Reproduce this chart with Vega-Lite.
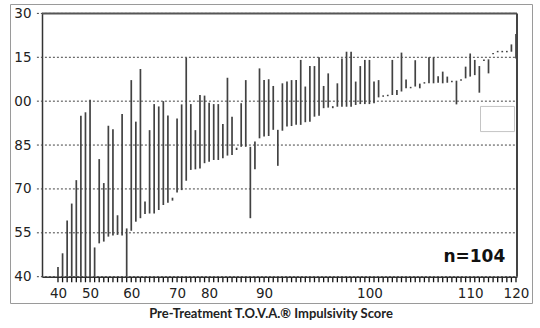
{
  "$schema": "https://vega.github.io/schema/vega-lite/v6.json",
  "width": 522,
  "height": 299,
  "autosize": "none",
  "padding": {"left": 10, "top": 4, "right": 8, "bottom": 25},
  "background": "white",
  "config": {
    "view": {"stroke": "#9a9a9a", "strokeWidth": 1},
    "axis": {
      "grid": false, "zindex": 1,
      "domainColor": "#333", "domainWidth": 1.5,
      "tickColor": "#333", "tickWidth": 1,
      "labelFont": "DejaVu Sans", "labelFontSize": 13.5, "labelColor": "#222",
      "labelOverlap": false, "labelFlush": false, "labelBound": false
    }
  },
  "title": {"text": "Pre-Treatment T.O.V.A.® Impulsivity Score", "orient": "bottom", "anchor": "middle", "offset": 5, "font": "Lato", "fontSize": 13, "fontWeight": "bold", "color": "#222"},
  "datasets": {
    "subjects": [
      {"rank": 1, "pre": 40, "post": 43.3},
      {"rank": 2, "pre": 40, "post": 48},
      {"rank": 3, "pre": 40, "post": 59.2},
      {"rank": 4, "pre": 40, "post": 65},
      {"rank": 5, "pre": 40, "post": 73},
      {"rank": 6, "pre": 40, "post": 95},
      {"rank": 7, "pre": 40, "post": 96.2},
      {"rank": 8, "pre": 40, "post": 100.5},
      {"rank": 9, "pre": 50, "post": 40},
      {"rank": 10, "pre": 51.4, "post": 80.2},
      {"rank": 11, "pre": 52, "post": 72},
      {"rank": 12, "pre": 53.7, "post": 91.6},
      {"rank": 13, "pre": 54.1, "post": 90.4},
      {"rank": 14, "pre": 54.3, "post": 61},
      {"rank": 15, "pre": 54.1, "post": 95.6},
      {"rank": 16, "pre": 56.5, "post": 40},
      {"rank": 17, "pre": 55.7, "post": 107.2},
      {"rank": 18, "pre": 58.8, "post": 93},
      {"rank": 19, "pre": 60, "post": 111},
      {"rank": 20, "pre": 61.4, "post": 65.7},
      {"rank": 21, "pre": 61.6, "post": 90.1},
      {"rank": 22, "pre": 61.6, "post": 99},
      {"rank": 23, "pre": 62.8, "post": 98.2},
      {"rank": 24, "pre": 64.5, "post": 100},
      {"rank": 25, "pre": 65.3, "post": 95.1},
      {"rank": 26, "pre": 66, "post": 67},
      {"rank": 27, "pre": 68.8, "post": 94.1},
      {"rank": 28, "pre": 69.6, "post": 98.9},
      {"rank": 29, "pre": 72.8, "post": 114.9},
      {"rank": 30, "pre": 76.5, "post": 99},
      {"rank": 31, "pre": 76.7, "post": 90.1},
      {"rank": 32, "pre": 77, "post": 102.1},
      {"rank": 33, "pre": 78.8, "post": 101.9},
      {"rank": 34, "pre": 79.3, "post": 99.5},
      {"rank": 35, "pre": 79.9, "post": 99},
      {"rank": 36, "pre": 79.9, "post": 99},
      {"rank": 37, "pre": 80.5, "post": 92.2},
      {"rank": 38, "pre": 81.4, "post": 108},
      {"rank": 39, "pre": 81.6, "post": 94.7},
      {"rank": 40, "pre": 83.3, "post": 84.1},
      {"rank": 41, "pre": 84.4, "post": 99.3},
      {"rank": 42, "pre": 84.4, "post": 107.2},
      {"rank": 43, "pre": 84.4, "post": 60},
      {"rank": 44, "pre": 86.2, "post": 76.7},
      {"rank": 45, "pre": 87.3, "post": 111.2},
      {"rank": 46, "pre": 87.9, "post": 107.2},
      {"rank": 47, "pre": 88.1, "post": 107.5},
      {"rank": 48, "pre": 90.2, "post": 105.2},
      {"rank": 49, "pre": 90.2, "post": 77.9},
      {"rank": 50, "pre": 89.9, "post": 106.1},
      {"rank": 51, "pre": 91.3, "post": 106.7},
      {"rank": 52, "pre": 91.5, "post": 107.2},
      {"rank": 53, "pre": 91.9, "post": 107.2},
      {"rank": 54, "pre": 91.9, "post": 114.1},
      {"rank": 55, "pre": 92.8, "post": 105},
      {"rank": 56, "pre": 93, "post": 112},
      {"rank": 57, "pre": 94.7, "post": 112},
      {"rank": 58, "pre": 95, "post": 115},
      {"rank": 59, "pre": 97.6, "post": 105.2},
      {"rank": 60, "pre": 97.8, "post": 109.5},
      {"rank": 61, "pre": 97.6, "post": 98.3},
      {"rank": 62, "pre": 98.1, "post": 106.1},
      {"rank": 63, "pre": 98.1, "post": 114.6},
      {"rank": 64, "pre": 98.1, "post": 116.9},
      {"rank": 65, "pre": 98.1, "post": 116.9},
      {"rank": 66, "pre": 98.7, "post": 106.7},
      {"rank": 67, "pre": 99, "post": 112},
      {"rank": 68, "pre": 99, "post": 114.1},
      {"rank": 69, "pre": 99, "post": 114.1},
      {"rank": 70, "pre": 99.3, "post": 106.7},
      {"rank": 71, "pre": 101.3, "post": 107.2},
      {"rank": 72, "pre": 101.5, "post": 102},
      {"rank": 73, "pre": 101.7, "post": 102.2},
      {"rank": 74, "pre": 102.1, "post": 114.1},
      {"rank": 75, "pre": 102.1, "post": 103.8},
      {"rank": 76, "pre": 103.3, "post": 116.6},
      {"rank": 77, "pre": 104.4, "post": 107.4},
      {"rank": 78, "pre": 104.4, "post": 104.9},
      {"rank": 79, "pre": 105, "post": 114},
      {"rank": 80, "pre": 104.4, "post": 106},
      {"rank": 81, "pre": 106, "post": 106.5},
      {"rank": 82, "pre": 106.1, "post": 115},
      {"rank": 83, "pre": 106.1, "post": 115},
      {"rank": 84, "pre": 106.3, "post": 108.5},
      {"rank": 85, "pre": 106.1, "post": 110.1},
      {"rank": 86, "pre": 106.3, "post": 108.4},
      {"rank": 87, "pre": 106.5, "post": 107},
      {"rank": 88, "pre": 107, "post": 98.9},
      {"rank": 89, "pre": 107, "post": 107.5},
      {"rank": 90, "pre": 107.8, "post": 111.8},
      {"rank": 91, "pre": 108.4, "post": 116.3},
      {"rank": 92, "pre": 108.9, "post": 114.1},
      {"rank": 93, "pre": 112, "post": 102.9},
      {"rank": 94, "pre": 113.7, "post": 114.2},
      {"rank": 95, "pre": 109.5, "post": 114.3},
      {"rank": 96, "pre": 116, "post": 116.5},
      {"rank": 97, "pre": 116.7, "post": 117.2},
      {"rank": 98, "pre": 116.7, "post": 117.2},
      {"rank": 99, "pre": 116.7, "post": 117.2},
      {"rank": 100, "pre": 116.9, "post": 119.4},
      {"rank": 101, "pre": 114.6, "post": 123}
    ],
    "grid": [{"level": 40}, {"level": 55}, {"level": 70}, {"level": 85}, {"level": 100}, {"level": 115}, {"level": 130}],
    "box": [{"r1": 93.25, "r2": 100.67, "v1": 89.6, "v2": 98.2}],
    "one": [{}]
  },
  "layer": [
    {
      "data": {"name": "subjects"},
      "mark": {"type": "rule", "color": "#424242", "strokeWidth": 1.7, "clip": false},
      "encoding": {
        "x": {
          "field": "rank", "type": "quantitative", "title": null,
          "scale": {"domain": [-2.49, 101.22], "range": [32, 507], "nice": false, "zero": false, "clamp": false},
          "axis": {
            "values": [1, 8, 17, 27, 34, 46, 69, 91, 101],
            "offset": -26.3, "ticks": false, "tickSize": 4, "labelPadding": 10, "labelOverlap": false,
            "labelExpr": "datum.value==1?'40':datum.value==8?'50':datum.value==17?'60':datum.value==27?'70':datum.value==34?'80':datum.value==46?'90':datum.value==69?'100':datum.value==91?'110':datum.value==101?'120':''"
          }
        },
        "y": {
          "field": "pre", "type": "quantitative", "title": null,
          "scale": {"domain": [40, 130], "range": [272.7, 9.4], "nice": false, "zero": false, "clamp": false},
          "axis": {
            "values": [40, 55, 70, 85, 100, 115, 130],
            "offset": -32, "ticks": false, "tickSize": 5, "labelPadding": 11,
            "labelExpr": "datum.value==130?'30':datum.value==115?'15':datum.value==100?'00':datum.label"
          }
        },
        "y2": {"field": "post"}
      }
    },
    {
      "data": {"name": "subjects"},
      "mark": {"type": "rule", "color": "#111", "strokeWidth": 1.3, "clip": false},
      "encoding": {
        "x": {"field": "rank", "type": "quantitative", "title": null},
        "y": {"datum": 38.1, "type": "quantitative", "title": null},
        "y2": {"datum": 39.7}
      }
    },
    {
      "data": {"name": "grid"},
      "mark": {"type": "rule", "color": "#444", "strokeWidth": 1, "strokeDash": [2, 2]},
      "encoding": {
        "y": {"field": "level", "type": "quantitative", "title": null},
        "x": {"datum": -3.6, "type": "quantitative", "title": null},
        "x2": {"datum": 101.22}
      }
    },
    {
      "data": {"name": "one"},
      "mark": {"type": "rule", "color": "#555", "strokeWidth": 2},
      "encoding": {
        "y": {"datum": 130, "type": "quantitative", "title": null},
        "x": {"datum": -2.49, "type": "quantitative", "title": null},
        "x2": {"datum": 101.22}
      }
    },
    {
      "data": {"name": "one"},
      "mark": {"type": "rule", "color": "#444", "strokeWidth": 2},
      "encoding": {
        "x": {"datum": 101.22, "type": "quantitative", "title": null},
        "y": {"datum": 40, "type": "quantitative", "title": null},
        "y2": {"datum": 130}
      }
    },
    {
      "data": {"name": "box"},
      "mark": {"type": "rect", "filled": false, "stroke": "#c4c4c4", "strokeWidth": 1},
      "encoding": {
        "x": {"field": "r1", "type": "quantitative", "title": null},
        "x2": {"field": "r2"},
        "y": {"field": "v1", "type": "quantitative", "title": null},
        "y2": {"field": "v2"}
      }
    },
    {
      "data": {"name": "one"},
      "mark": {"type": "text", "text": "n=104", "font": "DejaVu Sans", "fontSize": 17, "fontWeight": "bold", "color": "#111", "align": "center", "baseline": "alphabetic"},
      "encoding": {
        "x": {"datum": 91.9, "type": "quantitative", "title": null},
        "y": {"datum": 45.1, "type": "quantitative", "title": null}
      }
    }
  ]
}
